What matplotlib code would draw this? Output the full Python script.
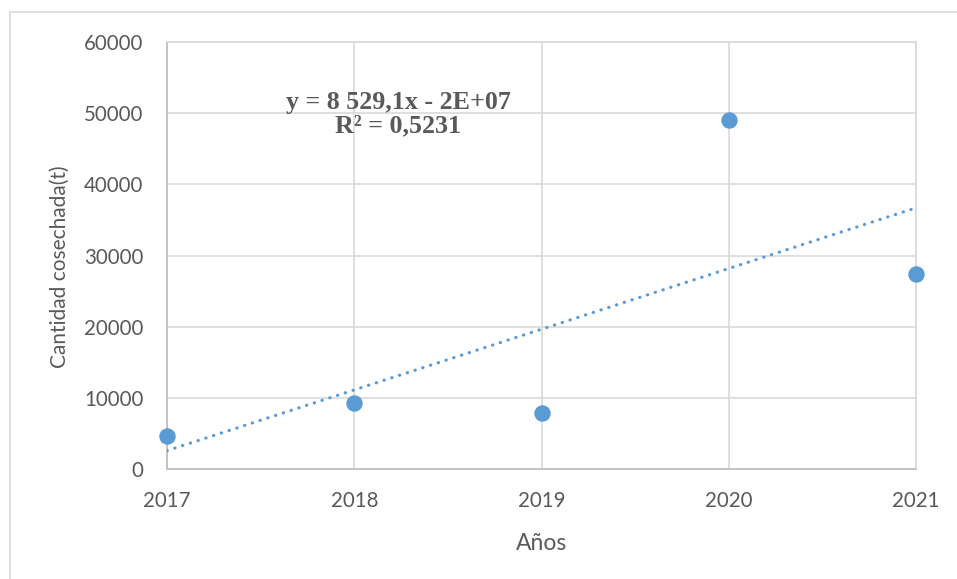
import numpy as np
import matplotlib.pyplot as plt
from matplotlib.patches import Rectangle

years = [2017, 2018, 2019, 2020, 2021]
harvest_t = [4600, 9309, 7900, 49000, 27400]
y_ticks = [0, 10000, 20000, 30000, 40000, 50000, 60000]
eq_label = "y = 8 529,1x - 2E+07\nR² = 0,5231"

blue = "#5b9bd5"
text_gray = "#595959"
W, H = 957, 579

fig = plt.figure(figsize=(W / 100, H / 100), dpi=100)
fig.patch.set_facecolor("white")

# outer chart-area frame (only left/top edges fall inside the canvas)
fig.patches.append(Rectangle((10 / W, -0.05), 1.2, 1 - 12 / H + 0.05,
                             transform=fig.transFigure, fill=False,
                             edgecolor="#d9d9d9", linewidth=1.2))

ax = fig.add_axes([167 / W, 110 / H, 749 / W, 427 / H])

# linear trend line computed from the data
coef = np.polyfit(years, harvest_t, 1)
xs = np.array([years[0], years[-1]], dtype=float)
ax.plot(xs, np.polyval(coef, xs), color=blue, linewidth=2.3,
        linestyle=(0, (0.1, 2.45)), dash_capstyle="round", zorder=3)

ax.scatter(years, harvest_t, s=140, color=blue, zorder=4, linewidths=0,
           clip_on=False)

ax.set_xlim(years[0], years[-1])
ax.set_ylim(y_ticks[0], y_ticks[-1])
ax.set_xticks(years)
ax.set_yticks(y_ticks)
ax.set_xticklabels([str(y) for y in years])
ax.set_yticklabels([str(v) for v in y_ticks])

ax.grid(True, color="#d9d9d9", linewidth=1.2, zorder=0)
ax.set_axisbelow(True)
for side in ("top", "right"):
    ax.spines[side].set_color("#d9d9d9")
    ax.spines[side].set_linewidth(1.2)
for side in ("left", "bottom"):
    ax.spines[side].set_color("#bfbfbf")
    ax.spines[side].set_linewidth(1.3)

ax.tick_params(axis="both", length=0, labelsize=14.8, labelcolor=text_gray,
               labelfontfamily="Lato")
ax.tick_params(axis="y", pad=17)
ax.tick_params(axis="x", pad=16)

fig.text(542 / W, 1 - 543 / H, "Años", ha="center", va="center",
         fontsize=16.5, color=text_gray, family="Lato")
fig.text(60 / W, 1 - 267 / H, "Cantidad cosechada(t)", ha="center",
         va="center", rotation=90, fontsize=15, color=text_gray,
         family="Lato")

fig.text(398 / W, 1 - 114 / H, eq_label, ha="center", va="center",
         fontsize=18.7, fontweight="bold", color=text_gray,
         family="Liberation Serif", linespacing=1.0)

fig.savefig("out.png", dpi=100, facecolor="white")
